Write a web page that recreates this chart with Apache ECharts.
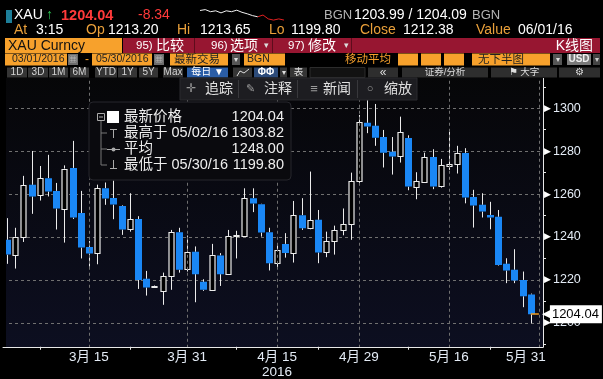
<!DOCTYPE html>
<html><head><meta charset="utf-8">
<script src="https://cdn.jsdelivr.net/npm/echarts@6/dist/echarts.min.js"></script>
<style>html,body{margin:0;padding:0;background:#000;overflow:hidden}#c{width:603px;height:379px}</style>
</head><body><div id="c"></div>
<script>
// ---------- DATA ----------
const dates = ['3/1','3/2','3/3','3/4','3/7','3/8','3/9','3/10','3/11','3/14','3/15','3/16','3/17','3/18','3/21','3/22','3/23','3/24','3/25','3/28','3/29','3/30','3/31',
 '4/1','4/4','4/5','4/6','4/7','4/8','4/11','4/12','4/13','4/14','4/15','4/18','4/19','4/20','4/21','4/22','4/25','4/26','4/27','4/28','4/29',
 '5/2','5/3','5/4','5/5','5/6','5/9','5/10','5/11','5/12','5/13','5/16','5/17','5/18','5/19','5/20','5/23','5/24','5/25','5/26','5/27','5/30'];
const openP  = [1238.7,1231.8,1239.8,1264.3,1259.5,1267.4,1261.5,1253.4,1272.2,1251.2,1235.4,1232.5,1262.7,1258.2,1254.5,1243.5,1248.4,1220.5,1216.6,1214.8,1221.9,1242.2,1225.0,
 1233.1,1219.1,1215.4,1231.4,1222.7,1240.2,1240.5,1258.1,1255.3,1242.2,1227.8,1236.8,1232.5,1250.2,1244.1,1248.0,1232.9,1238.0,1243.2,1246.0,1266.0,
 1293.2,1291.8,1286.6,1279.7,1277.5,1286.2,1263.5,1265.7,1277.3,1263.5,1272.8,1274.1,1279.2,1258.7,1255.0,1250.3,1249.4,1227.5,1224.7,1220.0,1213.20];
const highP  = [1248.8,1244.3,1268.5,1280.1,1273.1,1278.3,1265.2,1273.4,1284.8,1261.5,1238.2,1264.4,1265.4,1266.3,1254.8,1260.4,1249.7,1224.2,1217.4,1223.4,1243.3,1244.3,1240.7,
 1235.6,1220.3,1236.8,1232.5,1243.3,1242.9,1262.7,1262.7,1255.5,1244.3,1236.2,1241.8,1256.8,1258.1,1270.5,1252.6,1242.5,1245.3,1253.3,1270.0,1296.9,
 1303.82,1302.0,1289.9,1286.6,1296.1,1287.4,1270.2,1279.3,1280.9,1276.4,1289.1,1282.5,1281.4,1262.0,1260.4,1256.4,1252.6,1230.1,1234.3,1223.9,1213.65];
const lowP   = [1227.5,1225.3,1237.7,1250.8,1257.0,1258.9,1243.5,1237.4,1248.4,1230.0,1226.2,1227.3,1255.0,1248.3,1241.0,1242.5,1215.8,1212.7,1216.3,1208.4,1215.4,1223.4,1223.9,
 1209.6,1214.9,1215.1,1217.2,1222.4,1230.0,1240.2,1251.6,1240.2,1224.4,1225.5,1230.4,1228.1,1243.3,1243.6,1227.8,1230.6,1231.8,1240.8,1238.7,1264.5,
 1288.4,1282.5,1272.4,1269.1,1274.7,1261.8,1257.6,1265.4,1262.3,1263.0,1271.3,1269.6,1255.7,1244.4,1249.1,1243.6,1226.7,1218.5,1218.5,1207.3,1199.80];
const closeP = [1231.8,1240.1,1264.1,1258.9,1267.4,1261.2,1253.3,1271.9,1249.1,1235.1,1232.3,1262.7,1257.9,1255.1,1243.5,1248.3,1220.0,1216.5,1217.1,1221.6,1242.2,1224.8,1232.9,
 1222.7,1215.4,1231.7,1222.7,1240.5,1240.8,1258.1,1255.6,1242.1,1227.8,1233.9,1232.5,1250.2,1244.1,1247.7,1232.8,1238.0,1243.2,1246.0,1266.1,1293.5,
 1291.5,1286.3,1279.3,1277.5,1288.8,1263.5,1266.1,1277.2,1263.5,1273.4,1273.9,1279.2,1258.4,1254.7,1251.9,1249.1,1227.0,1224.4,1219.7,1212.38,1204.04];
const extraSlot = ['5/31'];
const gridDates = ['3/15','3/31','4/15','4/29','5/16','5/31'];
const xTickLabels = ['3月 15','3月 31','4月 15\n2016','4月 29','5月 16','5月 31'];
const xMinorTickDates = ['3/7','3/22','4/8','4/22','5/9','5/23'];
const yTicks = [1200,1220,1240,1260,1280,1300];
const legendNames = ['最新价格','最高于 05/02/16','平均','最低于 05/30/16'];
const legendValues = ['1204.04','1303.82','1248.00','1199.80'];
const bidAsk = ['1203.99','1204.09'];
const sparkWhite = [1213.0,1213.3,1212.6,1212.9,1212.2,1212.9,1212.6,1213.1,1212.4,1211.9,1211.3,1210.9];
const sparkRed = [1211.5,1210.2,1209.8,1210.2,1209.8];

// ---------- BUILD ----------
const FF = "'Liberation Sans','Noto Sans CJK SC',sans-serif";
const axisDates = dates.concat(extraSlot);
const n = dates.length;
const last = closeP[n-1], prev = closeP[n-2];
const candles = dates.map((d,i)=>[i, openP[i], closeP[i], lowP[i], highP[i]]);
const labelMap = {}; gridDates.forEach((d,i)=>labelMap[d]=xTickLabels[i]);
const labelIdx = gridDates.map(d=>axisDates.indexOf(d));
const minorIdx = xMinorTickDates.map(d=>axisDates.indexOf(d));
const sparkX = []; for (let i=0;i<sparkWhite.length+sparkRed.length;i++) sparkX.push(i);
const sw = sparkX.map(i=> i<sparkWhite.length ? sparkWhite[i] : '-');
const sr = sparkX.map(i=> i===sparkWhite.length-1 ? sparkWhite[i] : (i>=sparkWhite.length ? sparkRed[i-sparkWhite.length] : '-'));

const BLUE = '#1a87f5', WICK = '#ececec';
function renderCandle(params, api){
  const i = api.value(0), o = api.value(1), c = api.value(2), l = api.value(3), h = api.value(4);
  const pO = api.coord([i,o]), pC = api.coord([i,c]), pL = api.coord([i,l]), pH = api.coord([i,h]);
  const xc = Math.round(pO[0]) + 0.5;
  const top = Math.min(pO[1], pC[1]), bot = Math.max(pO[1], pC[1]);
  const up = c >= o;
  const kids = [
    {type:'line', shape:{x1:xc, y1:pH[1], x2:xc, y2:top}, style:{stroke:WICK, lineWidth:1}},
    {type:'line', shape:{x1:xc, y1:bot, x2:xc, y2:pL[1]}, style:{stroke:WICK, lineWidth:1}}
  ];
  if (up) {
    kids.push({type:'rect', shape:{x:xc-2.5, y:Math.round(top)+0.5, width:5, height:Math.max(1, Math.round(bot-top))},
      style:{fill:'#000', stroke:WICK, lineWidth:1.2}});
  } else {
    kids.push({type:'rect', shape:{x:xc-3.5, y:top, width:7, height:Math.max(1.5, bot-top)}, style:{fill:BLUE}});
  }
  return {type:'group', children:kids};
}

const ORANGE = '#f7a12c';
const G = [];
function T(x,y,text,fill,size,align,weight,z){
  G.push({type:'text', x, y, z: z||110, silent:true, style:{text, fill, font:(weight||'normal')+' '+size+'px '+FF,
    align:align||'left', textAlign:align||'left', verticalAlign:'middle', textVerticalAlign:'middle'}});
}
function R(x,y,w,h,fill,stroke,z,r){
  G.push({type:'rect', z: z||105, silent:true, shape:{x,y,width:w,height:h,r:r||0}, style:{fill, stroke:stroke||null, lineWidth:1}});
}
function L(x1,y1,x2,y2,c,z){ G.push({type:'line', z:z||110, silent:true, shape:{x1,y1,x2,y2}, style:{stroke:c, lineWidth:1}}); }

// covers
R(0,0,603,78,'#000',null,100);
R(0,78,6,270,'#000',null,100);
R(0,347.5,603,32,'#000',null,100);

// row 1
R(6,10,6,13,'#1d7f9a');
T(14,15.5,'XAU','#fff',14);
T(46,15.5,'↑','#2ecc55',14);
T(61,15.5,last.toFixed(2),'#ff3a3a',14.5,'left','bold');
T(138,15.5,(last-prev).toFixed(2),'#ff3a3a',14);
T(324,15.5,'BGN','#b4b4b4',13);
T(354,15.5,bidAsk[0]+' / '+bidAsk[1],'#fff',14);
T(472,15.5,'BGN','#b4b4b4',13);
// row 2
const OL = '#eaa03a';
T(14,30.5,'At',OL,14); T(36,30.5,'3:15','#fff',14);
T(86,30.5,'Op',OL,14); T(108,30.5,openP[n-1].toFixed(2),'#fff',14);
T(177,30.5,'Hi',OL,14); T(200,30.5,highP[n-1].toFixed(2),'#fff',14);
T(269,30.5,'Lo',OL,14); T(291,30.5,lowP[n-1].toFixed(2),'#fff',14);
T(360,30.5,'Close',OL,14); T(403,30.5,prev.toFixed(2),'#fff',14);
T(476,30.5,'Value',OL,14); T(518,30.5,'06/01/16','#fff',14);
// row 3
R(5,38,117,15,ORANGE);
R(123,38,477,15,'#971631');
L(194.5,38,194.5,53,'#5e0c1c'); L(272.5,38,272.5,53,'#5e0c1c'); L(351.5,38,351.5,53,'#5e0c1c');
T(8,46,'XAU Curncy','#111',14);
T(136,46,'95)','#fff',11.5); T(156,46,'比较','#fff',14);
T(211,46,'96)','#fff',11.5); T(230,46,'选项','#fff',14); T(264,46,'▾','#ddd',9);
T(288,46,'97)','#fff',11.5); T(308,46,'修改','#fff',14); T(344,46,'▾','#ddd',9);
T(593,46,'K线图','#fff',14,'right');
// row 4
R(5,53.5,62,12,ORANGE); T(12,59.5,'03/01/2016','#222',10.5);
R(68,54,10,11,'#6c6c6c'); T(73,59.5,'▦','#ddd',8,'center');
T(85,59.5,'-',ORANGE,12);
R(92,53.5,60,12,ORANGE); T(96,59.5,'05/30/2016','#222',10.5);
R(154,54,10,11,'#6c6c6c'); T(159,59.5,'▦','#ddd',8,'center');
R(170,53.5,58,12,ORANGE); T(174,59.5,'最新交易','#222',11.5);
R(232,54,8,11,'#555'); T(236,59.5,'▾','#ddd',8,'center');
R(244,53.5,41,12,ORANGE); T(247,59.5,'BGN','#222',10.5);
T(345,59.5,'移动平均',ORANGE,11.5);
R(398,53.5,20,12,ORANGE); R(421,53.5,20,12,ORANGE); R(444,53.5,20,12,ORANGE);
R(472,53.5,78,12,ORANGE); T(478,59.5,'无下半图','#222',11.5);
R(553,54,9,11,'#555'); T(557.5,59.5,'▾','#ddd',8,'center');
R(567,54,24,11,'#7a7a7a'); T(579,59.5,'USD','#f0f0f0',10,'center','bold');
R(593,54,7,11,'#444'); T(596.5,59.5,'▾','#ccc',8,'center');
// row 5
const btns = [[7,27,'1D'],[28,48,'3D'],[49,68,'1M'],[70,89,'6M'],[95,117,'YTD'],[118,137,'1Y'],[139,158,'5Y'],[163,183,'Max']];
btns.forEach(b=>{R(b[0],67.5,b[1]-b[0],10,'#353535'); T((b[0]+b[1])/2,72.5,b[2],'#d4d4d4',10,'center');});
R(187,67.5,41,10,'#2a5da6'); T(207.5,72.5,'每日 ▼','#fff',10,'center');
R(233,67.5,19,10,'#353535');
G.push({type:'polyline', z:110, silent:true, shape:{points:[[237,76],[240,71],[244,73],[249,69]]}, style:{stroke:'#ddd', fill:null, lineWidth:1}});
R(254,67.5,24,10,'#2c4b7a'); T(266,72.5,'ΦΦ','#fff',10,'center','bold');
R(280,67.5,7,10,'#353535'); T(283.5,72.5,'▾','#ddd',8,'center');
R(290,67.5,17,10,'#353535'); T(298.5,72.5,'表','#ddd',9.5,'center');
R(310,67.5,55,10,'#121212','#2c2c2c');
R(368,67.5,30,10,'#2e2e2e'); T(383,72.5,'«','#ddd',12,'center');
R(402,67.5,86,10,'#2e2e2e'); T(445,72.5,'证券/分析','#ddd',9.5,'center');
R(491,67.5,66,10,'#2e2e2e'); T(524,72.5,'⚑ 大字','#ddd',9.5,'center');
R(559,67.5,41,10,'#2e2e2e'); T(579.5,72.5,'⚙','#ddd',10,'center');
// toolbar overlay
R(180,78,237,22,'#1d1d21','#2a2a2e');
L(238.5,80,238.5,98,'#38383c'); L(297.5,80,297.5,98,'#38383c'); L(357.5,80,357.5,98,'#38383c');
T(191,89,'✛','#9a9a9a',12,'center'); T(205,89,'追踪','#e0e0e0',14);
T(250,89,'✎','#9a9a9a',11,'center'); T(264,89,'注释','#e0e0e0',14);
T(314,89,'≡','#9a9a9a',13,'center'); T(323,89,'新闻','#e0e0e0',14);
T(370,89,'○','#9a9a9a',11,'center'); T(384,89,'缩放','#e0e0e0',14);
// legend box
R(89,102,202,78,'#0a0a0e','#26262c',105,4);
G.push({type:'rect', z:108, silent:true, shape:{x:97.5,y:113.5,width:7,height:7}, style:{fill:null, stroke:'#aaa', lineWidth:1}});
L(99,117,103,117,'#aaa');
L(101,121,101,165,'#777'); L(101,133,107,133,'#777'); L(101,149,107,149,'#777'); L(101,165,107,165,'#777');
R(107,111,12,12,'#fff',null,108);
L(110,129.5,117,129.5,'#aaa'); L(113.5,129.5,113.5,138,'#aaa');
L(107,149.5,120,149.5,'#aaa'); G.push({type:'circle', z:110, silent:true, shape:{cx:113.5,cy:149.5,r:2}, style:{fill:'#aaa'}});
L(113.5,160,113.5,168.5,'#aaa'); L(110,168.5,117,168.5,'#aaa');
const ly = [117,133,149,165];
legendNames.forEach((s,i)=>{ T(124,ly[i],s,'#eeeeee',14.5); T(284,ly[i],legendValues[i],'#eeeeee',14.5,'right'); });

const chart = echarts.init(document.getElementById('c'), null, {renderer:'canvas'});
chart.setOption({
  backgroundColor:'#000',
  animation:false,
  grid:[
    {left:3, right:60, top:65.36, bottom:13.06, show:true, borderWidth:0,
     backgroundColor:new echarts.graphic.LinearGradient(0,0,0,1,[{offset:0,color:'#060607'},{offset:1,color:'#0d0f22'}])},
    {left:200, top:9, width:84, height:12, show:false}
  ],
  xAxis:[
    {type:'category', gridIndex:0, data:axisDates, boundaryGap:true, offset:-19, z:200,
     axisLine:{lineStyle:{color:'#e8e8e8', width:1}},
     axisTick:{show:true, alignWithLabel:true, length:3, interval:(i)=>minorIdx.includes(i), lineStyle:{color:'#e8e8e8'}},
     axisLabel:{interval:(i)=>labelIdx.includes(i), margin:3,
       formatter:(v)=>{const s=labelMap[v]; if(!s) return ''; const tag = v===extraSlot[0]?'r':'n'; return s.split('\n').map(p=>'{'+tag+'|'+p+'}').join('\n');},
       rich:{n:{color:'#e4ecf6', fontSize:13.5, fontFamily:FF, lineHeight:15},
             r:{color:'#e4ecf6', fontSize:13.5, fontFamily:FF, lineHeight:15, padding:[0,26,0,0]}}},
     splitLine:{show:false}},
    {type:'category', gridIndex:1, data:sparkX, boundaryGap:false, show:false}
  ],
  yAxis:[
    {type:'value', gridIndex:0, position:'right', min:1180, max:1320, interval:20,
     axisLine:{show:true, lineStyle:{color:'#e8e8e8', width:1}},
     axisTick:{show:false},
     minorTick:{show:true, splitNumber:2, length:3, lineStyle:{color:'#e8e8e8'}},
     minorSplitLine:{show:false},
     splitLine:{show:true, lineStyle:{color:'#707070', type:[3,3], width:1}},
     axisLabel:{margin:1, formatter:(v)=> yTicks.includes(v) ? '{t|▶}{v|'+v+'}' : '',
       rich:{t:{color:'#fff', fontSize:9, padding:[0,2,0,0]}, v:{color:'#e4ecf6', fontSize:12.5, fontFamily:FF}}}},
    {type:'value', gridIndex:1, scale:true, show:false}
  ],
  series:[
    {type:'custom', xAxisIndex:0, yAxisIndex:0, data:candles, z:3, clip:true,
     encode:{x:0, y:[1,2,3,4]}, renderItem:renderCandle},
    {type:'line', xAxisIndex:0, yAxisIndex:0, data:[], z:2, silent:true,
     markLine:{silent:true, symbol:['none','none'], animation:false,
       data:[
         ...gridDates.map(d=>({xAxis:axisDates.indexOf(d), lineStyle:{color:'#707070', type:[3,3], width:1}, label:{show:false}})),
         [{coord:[n-1,last], lineStyle:{color:'#f39c1f', width:1.5, type:'solid'},
           label:{show:true, position:'end', distance:3, formatter:'{a|◀}{b|'+last.toFixed(2)+'}',
             rich:{a:{color:'#fff', fontSize:11, padding:[0,0,0,0]}, b:{backgroundColor:'#fff', color:'#000', fontSize:13, fontFamily:FF, padding:[3,3,2,2]}}}},
          {coord:[n-0.35,last]}]
       ]}},
    {type:'line', xAxisIndex:1, yAxisIndex:1, data:sw, symbol:'none', z:120, lineStyle:{color:'#f0f0f0', width:1}},
    {type:'line', xAxisIndex:1, yAxisIndex:1, data:sr, symbol:'none', z:120, lineStyle:{color:'#e02020', width:1}}
  ],
  graphic:{elements:G}
});
</script></body></html>
